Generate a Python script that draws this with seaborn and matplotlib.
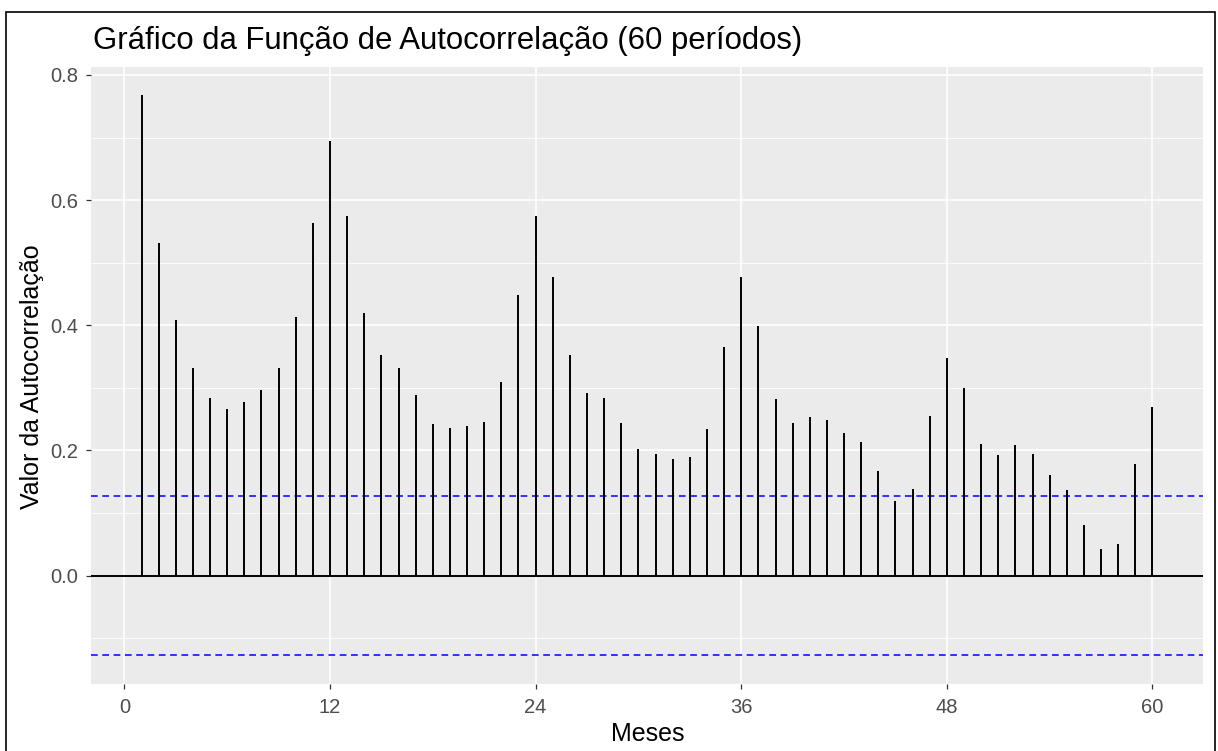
import numpy as np
import pandas as pd
import matplotlib
matplotlib.use("Agg")
import matplotlib.pyplot as plt
import seaborn as sns
from matplotlib.patches import Rectangle

# Lags (months) and autocorrelation values
lags = list(range(1, 61))
acf_values = [
    0.768, 0.532, 0.408, 0.331, 0.284, 0.266, 0.278, 0.297, 0.331, 0.413,
    0.563, 0.695, 0.574, 0.419, 0.352, 0.331, 0.289, 0.242, 0.236, 0.239,
    0.245, 0.309, 0.449, 0.574, 0.477, 0.353, 0.292, 0.284, 0.244, 0.203,
    0.195, 0.187, 0.189, 0.234, 0.366, 0.477, 0.399, 0.283, 0.244, 0.253,
    0.248, 0.228, 0.214, 0.167, 0.120, 0.139, 0.255, 0.347, 0.300, 0.211,
    0.192, 0.209, 0.195, 0.161, 0.137, 0.081, 0.043, 0.051, 0.179, 0.270,
]
conf_limit = 0.1276
x_ticks = [0, 12, 24, 36, 48, 60]
y_ticks = [0.0, 0.2, 0.4, 0.6, 0.8]
y_minor = [-0.1, 0.1, 0.3, 0.5, 0.7]

df = pd.DataFrame({"lag": lags, "acf": acf_values})

sns.set_theme(style="darkgrid", rc={
    "axes.facecolor": "#EBEBEB",
    "grid.color": "white",
    "axes.edgecolor": "#EBEBEB",
})
plt.rcParams["font.family"] = ["Liberation Sans", "DejaVu Sans"]

fig = plt.figure(figsize=(12.18, 7.51), dpi=100)
W, H = 1218, 751
ax = fig.add_axes([91 / W, 1 - 683.5 / H, (1203 - 91) / W, (683.5 - 67) / H])

# limits like ggplot's 5% expansion
lo, hi = -conf_limit, max(acf_values)
ax.set_xlim(1 - 0.05 * 59, 60 + 0.05 * 59)
ax.set_ylim(lo - 0.05 * (hi - lo), hi + 0.05 * (hi - lo))

ax.set_xticks(x_ticks)
ax.set_yticks(y_ticks)
ax.set_yticks(y_minor, minor=True)
ax.set_yticklabels([f"{v:.1f}" for v in y_ticks])
ax.grid(which="major", color="white", linewidth=1.2)
ax.grid(which="minor", axis="y", color="white", linewidth=0.6)
ax.grid(which="major", axis="x", color="white", linewidth=1.2)
for s in ax.spines.values():
    s.set_visible(False)

ax.tick_params(axis="both", which="major", length=3.6, width=0.9, color="#333333",
               labelsize=14.5, labelcolor="#4D4D4D", pad=5.5, direction="out")
ax.tick_params(axis="x", which="major", pad=7)
ax.tick_params(axis="both", which="minor", length=0)
ax.xaxis.set_ticks_position("bottom")
ax.yaxis.set_ticks_position("left")

# zero line, confidence limits and ACF segments
ax.axhline(0, color="black", linewidth=1.4, zorder=2)
ax.axhline(conf_limit, color="blue", linewidth=1.1, dashes=(4.4, 3), zorder=2)
ax.axhline(-conf_limit, color="blue", linewidth=1.1, dashes=(4.4, 3), zorder=2)
ax.vlines(df["lag"], 0, df["acf"], color="black", linewidth=1.4, zorder=3)

ax.set_xlabel("")
ax.set_ylabel("")
fig.text(648 / W, 1 - 734 / H, "Meses", fontsize=18, color="black",
         ha="center", va="center")
fig.text(32 / W, 1 - 377 / H, "Valor da Autocorrelação", fontsize=18,
         color="black", ha="center", va="center", rotation=90)

fig.text(93 / W, 1 - 49 / H, "Gráfico da Função de Autocorrelação (60 períodos)",
         fontsize=22.4, color="black", ha="left", va="baseline")

# screenshot frame
fig.patches.append(Rectangle((6 / W, -0.05), (1215 - 6) / W, 1 - 12 / H + 0.05,
                             transform=fig.transFigure, fill=False,
                             edgecolor="black", linewidth=1.2))

fig.savefig("out.png", dpi=100, facecolor="white")
